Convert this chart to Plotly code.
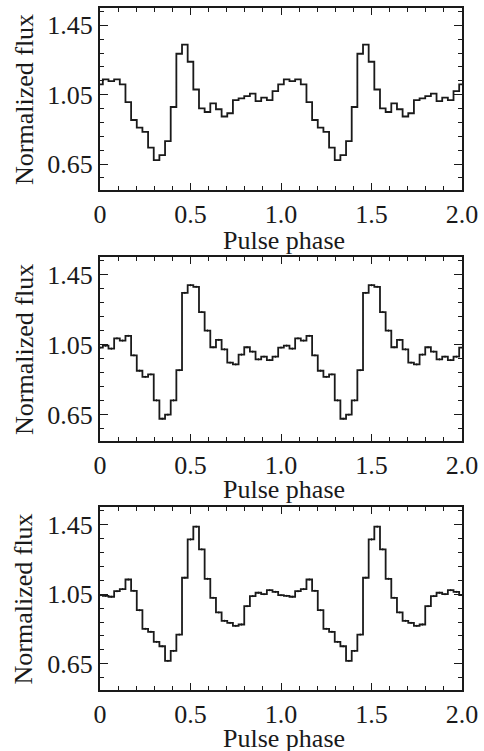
import numpy as np
import plotly.graph_objects as go

# Pulse phase bin centres for one cycle (32 bins), drawn over two cycles
n_bins = 32
phase = np.arange(2 * n_bins + 1) / n_bins

# Normalized flux per phase bin (one cycle), three panels
flux_top = [1.109, 1.138, 1.128, 1.138, 1.109, 1.007, 0.904, 0.860,
            0.835, 0.745, 0.672, 0.701, 0.782, 0.979, 1.286, 1.339,
            1.240, 1.080, 0.971, 0.950, 1.000, 0.966, 0.924, 0.943,
            1.019, 1.029, 1.042, 1.056, 1.013, 1.033, 1.019, 1.071]
flux_mid = [1.033, 1.044, 1.027, 1.086, 1.073, 1.100, 0.989, 0.901,
            0.866, 0.880, 0.732, 0.627, 0.650, 0.732, 0.904, 1.345,
            1.389, 1.380, 1.236, 1.130, 1.035, 1.077, 1.023, 0.947,
            0.937, 0.993, 1.035, 1.010, 0.966, 0.981, 0.962, 0.981]
flux_bot = [1.044, 1.040, 1.035, 1.067, 1.079, 1.134, 1.069, 0.958,
            0.851, 0.834, 0.776, 0.751, 0.667, 0.724, 0.818, 1.144,
            1.364, 1.437, 1.307, 1.138, 1.029, 0.945, 0.897, 0.885,
            0.868, 0.876, 0.981, 1.039, 1.058, 1.050, 1.073, 1.063]
err_mid = 0.006
err_bot = 0.006

x_tickvals = [0, 0.5, 1.0, 1.5, 2.0]
x_ticktext = ["0", "0.5", "1.0", "1.5", "2.0"]
y_tickvals = [0.65, 1.05, 1.45]
y_ticktext = ["0.65", "1.05", "1.45"]
x_title = "Pulse phase"
y_title = "Normalized flux"

FONT = "Liberation Serif, Times New Roman, DejaVu Serif, serif"
INK = "#1a1a1a"
fig = go.Figure()

panels = [(flux_top, None), (flux_mid, err_mid), (flux_bot, err_bot)]
domains = [[0.7331, 1.0], [0.3651, 0.6349], [0.0, 0.2683]]
xtitle_y = [0.6598, 0.2933, -0.0704]

for i, (vals, err) in enumerate(panels):
    n = i + 1
    xa = "x" if n == 1 else f"x{n}"
    ya = "y" if n == 1 else f"y{n}"
    yy = list(vals) + list(vals) + [vals[0]]
    fig.add_trace(go.Scatter(x=phase, y=yy, mode="lines",
                             line=dict(color=INK, width=1.8, shape="hvh"),
                             xaxis=xa, yaxis=ya, showlegend=False, hoverinfo="skip"))
    if err is not None:
        fig.add_trace(go.Scatter(x=phase[:-1], y=yy[:-1], mode="markers",
                                 marker=dict(size=1, color=INK),
                                 error_y=dict(type="constant", value=err, color=INK,
                                              thickness=1, width=0),
                                 xaxis=xa, yaxis=ya, showlegend=False, hoverinfo="skip"))
    axis_common = dict(showline=True, linecolor=INK, linewidth=2, mirror="ticks",
                       ticks="inside", tickcolor=INK, showgrid=False, zeroline=False,
                       automargin=False,
                       tickfont=dict(family=FONT, size=26, color=INK))
    xkey = "xaxis" if n == 1 else f"xaxis{n}"
    ykey = "yaxis" if n == 1 else f"yaxis{n}"
    fig.update_layout({
        xkey: dict(axis_common, domain=[0, 1], anchor=ya, range=[0, 2.0],
                   tickvals=x_tickvals, ticktext=x_ticktext, ticklen=7, tickwidth=1.2,
                   minor=dict(dtick=0.1, tick0=0, ticklen=4, tickwidth=1, tickcolor=INK,
                              ticks="inside", showgrid=False)),
        ykey: dict(axis_common, domain=domains[i], anchor=xa, range=[0.50, 1.55],
                   tickvals=y_tickvals, ticktext=y_ticktext, ticklen=8, tickwidth=1.2,
                   minor=dict(dtick=0.08, tick0=0.65, ticklen=4, tickwidth=1, tickcolor=INK,
                              ticks="inside", showgrid=False)),
    })
    fig.add_annotation(text=x_title, xref="paper", yref="paper", x=0.508, y=xtitle_y[i],
                       xanchor="center", yanchor="middle", showarrow=False,
                       font=dict(family=FONT, size=26, color=INK))
    fig.add_annotation(text=y_title, xref="paper", yref="paper", x=-0.21,
                       y=sum(domains[i]) / 2, textangle=-90,
                       xanchor="center", yanchor="middle", showarrow=False,
                       font=dict(family=FONT, size=26, color=INK))

fig.update_layout(width=484, height=751, plot_bgcolor="white", paper_bgcolor="white",
                  margin=dict(l=100, r=22, t=8, b=61, autoexpand=False))
fig.write_html("out.html", config={"displayModeBar": False},
               post_script="document.body.style.margin='0';document.body.style.overflow='hidden';")
